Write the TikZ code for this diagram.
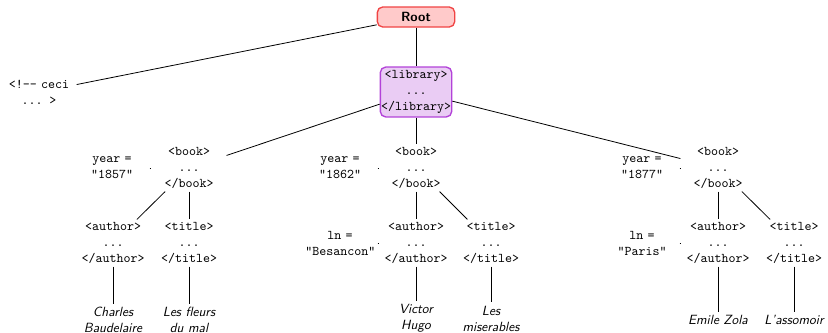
\documentclass[tikz,border=0pt]{standalone}
\usetikzlibrary{calc}
\definecolor{rootfill}{RGB}{255,202,202}
\definecolor{rootline}{RGB}{240,68,68}
\definecolor{libfill}{RGB}{234,204,244}
\definecolor{libline}{RGB}{178,66,216}
\begin{document}
\begin{tikzpicture}[x=0.75pt,y=-0.75pt,
  elem/.style={font=\ttfamily, align=center, text width=52pt, inner sep=2pt},
  attrib/.style={elem},
  leaf/.style={font=\sffamily\itshape, align=center, text width=52pt, inner sep=2.5pt},
  rootbox/.style={draw=rootline, fill=rootfill, line width=1pt, rounded corners=4pt,
    font=\sffamily\bfseries, minimum width=58pt, minimum height=15pt, inner sep=1pt},
  libbox/.style={draw=libline, fill=libfill, line width=1pt, rounded corners=4pt,
    font=\ttfamily, align=center, inner xsep=0.5pt, inner ysep=2.5pt},
  link/.style={draw=black, line width=0.6pt}]
\useasboundingbox (0,0) rectangle (828,332);

% top of the document
\node[rootbox] (root) at (416,17) {Root};
\node[elem] (comment) at (39,92) {<!-\kern0pt- ceci\\... >};
\node[libbox] (lib) at (416,92) {<library>\\...\\</library>};

% book elements
\node[elem] (b1) at (189,168) {<book>\\...\\</book>};
\node[elem] (b2) at (416,168) {<book>\\...\\</book>};
\node[elem] (b3) at (718,168) {<book>\\...\\</book>};

% year attributes
\node[attrib] (y1) at (112,168) {year =\\"1857"};
\node[attrib] (y2) at (340,168) {year =\\"1862"};
\node[attrib] (y3) at (642,168) {year =\\"1877"};

% author and title elements
\node[elem] (a1) at (113,243) {<author>\\...\\</author>};
\node[elem] (t1) at (189,243) {<title>\\...\\</title>};
\node[elem] (a2) at (416,243) {<author>\\...\\</author>};
\node[elem] (t2) at (491,243) {<title>\\...\\</title>};
\node[elem] (a3) at (718,243) {<author>\\...\\</author>};
\node[elem] (t3) at (794,243) {<title>\\...\\</title>};

% birthplace attributes
\node[attrib] (l2) at (340,243) {ln =\\"Besancon"};
\node[attrib] (l3) at (642,243) {ln =\\"Paris"};

% text content
\node[leaf] (c1) at (113,320) {Charles\\Baudelaire};
\node[leaf] (f1) at (189,320) {Les fleurs\\du mal};
\node[leaf] (v2) at (416,318.5) {Victor\\Hugo};
\node[leaf] (m2) at (491,318.5) {Les\\miserables};
\node[leaf] (e3) at (718,320) {Emile Zola};
\node[leaf] (s3) at (794,320) {L'assomoir};

% tree edges
\draw[link] (root) -- (comment);
\draw[link] (root) -- (lib);
\draw[link] (lib) -- (b1);
\draw[link] (lib) -- (b2);
\draw[link] (lib) -- (b3);
\draw[link] (b1) -- (a1);
\draw[link] (b1) -- (t1);
\draw[link] (b2) -- (a2);
\draw[link] (b2) -- (t2);
\draw[link] (b3) -- (a3);
\draw[link] (b3) -- (t3);
\draw[link] (a1) -- (c1);
\draw[link] (t1) -- (f1);
\draw[link] (a2) -- (v2);
\draw[link] (t2) -- (m2);
\draw[link] (a3) -- (e3);
\draw[link] (t3) -- (s3);

% attribute links
\draw[link] (y1) -- (b1);
\draw[link] (y2) -- (b2);
\draw[link] (y3) -- (b3);
\draw[link] (l2) -- (a2);
\draw[link] (l3) -- (a3);
\end{tikzpicture}
\end{document}
